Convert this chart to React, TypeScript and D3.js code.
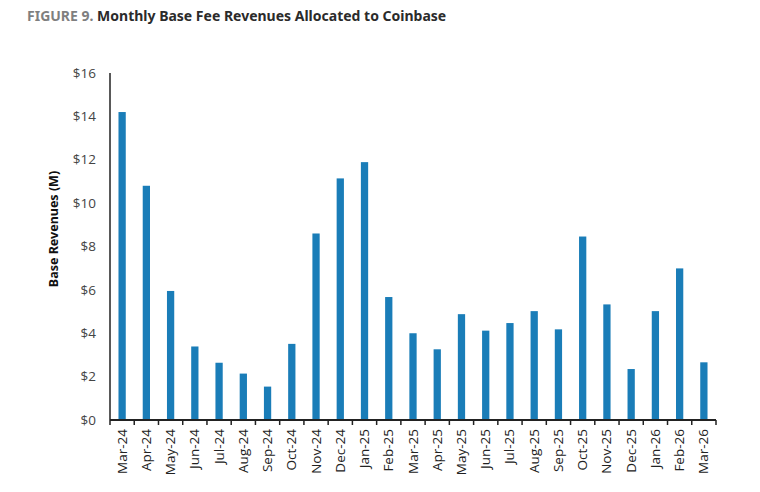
import React, { useEffect, useRef } from 'react';
import * as d3 from 'd3';

const months: string[] = [
  'Mar-24', 'Apr-24', 'May-24', 'Jun-24', 'Jul-24', 'Aug-24', 'Sep-24', 'Oct-24',
  'Nov-24', 'Dec-24', 'Jan-25', 'Feb-25', 'Mar-25', 'Apr-25', 'May-25', 'Jun-25',
  'Jul-25', 'Aug-25', 'Sep-25', 'Oct-25', 'Nov-25', 'Dec-25', 'Jan-26', 'Feb-26', 'Mar-26',
];
const revenues: number[] = [
  14.2, 10.8, 5.95, 3.39, 2.64, 2.14, 1.54, 3.51,
  8.6, 11.14, 11.89, 5.67, 4.0, 3.26, 4.88, 4.12,
  4.47, 5.02, 4.18, 8.46, 5.33, 2.35, 5.02, 6.99, 2.66,
];
const yTicks: number[] = [0, 2, 4, 6, 8, 10, 12, 14, 16];

const App = () => {
  const ref = useRef<SVGSVGElement>(null);

  useEffect(() => {
    const svg = d3.select(ref.current);
    svg.selectAll('*').remove();

    const left = 110;
    const right = 716;
    const top = 73;
    const bottom = 420;

    const x = d3.scaleBand().domain(months).range([left, right]).paddingInner(0.7).paddingOuter(0.35);
    const xTick = d3.scaleBand().domain(months).range([left, right]);
    const y = d3.scaleLinear().domain([0, 16]).range([bottom, top]);

    // title
    const title = svg.append('text').attr('x', 27).attr('y', 21)
      .style('font-family', '"Noto Sans", sans-serif').style('font-size', '14px').style('font-weight', 700);
    title.append('tspan').attr('fill', '#7f7f7f').text('FIGURE 9. ');
    title.append('tspan').attr('fill', '#2b2b2b').text('Monthly Base Fee Revenues Allocated to Coinbase');

    // bars
    svg.append('g').selectAll('rect').data(revenues).enter().append('rect')
      .attr('x', (_d, i) => x(months[i]) || 0)
      .attr('y', (d) => y(d))
      .attr('width', x.bandwidth())
      .attr('height', (d) => bottom - y(d))
      .attr('fill', '#1a7db8');

    // y axis
    svg.append('line').attr('x1', left).attr('x2', left).attr('y1', top).attr('y2', bottom)
      .attr('stroke', '#222').attr('stroke-width', 1.5);
    svg.append('g').selectAll('text').data(yTicks).enter().append('text')
      .attr('x', 96).attr('y', (d) => y(d)).attr('dy', '0.35em').attr('text-anchor', 'end')
      .attr('fill', '#444').style('font-family', '"Open Sans", sans-serif').style('font-size', '13.5px')
      .text((d) => `$${d}`);

    svg.append('text').attr('transform', 'translate(58,229) rotate(-90)')
      .attr('text-anchor', 'middle').attr('fill', '#111')
      .style('font-family', '"Noto Sans", sans-serif').style('font-size', '12.5px').style('font-weight', 700)
      .text('Base Revenues (M)');

    // x axis
    svg.append('line').attr('x1', left).attr('x2', right).attr('y1', bottom).attr('y2', bottom)
      .attr('stroke', '#222').attr('stroke-width', 1.8);
    const ticks = months.map((m) => xTick(m) || 0).concat([right]);
    svg.append('g').selectAll('line').data(ticks).enter().append('line')
      .attr('x1', (d) => d).attr('x2', (d) => d).attr('y1', bottom).attr('y2', bottom + 5)
      .attr('stroke', '#222').attr('stroke-width', 1.5);
    svg.append('g').selectAll('text').data(months).enter().append('text')
      .attr('transform', (d) => `translate(${(xTick(d) || 0) + xTick.bandwidth() / 2 + 4.5},429) rotate(-90)`)
      .attr('text-anchor', 'end').attr('fill', '#222')
      .style('font-family', '"Open Sans", sans-serif').style('font-size', '13.5px')
      .text((d) => d);
  }, []);

  return (
    <svg
      ref={ref}
      width={760}
      height={492}
      style={{ display: 'block', position: 'absolute', left: 0, top: 0 }}
    />
  );
};

export default App;
